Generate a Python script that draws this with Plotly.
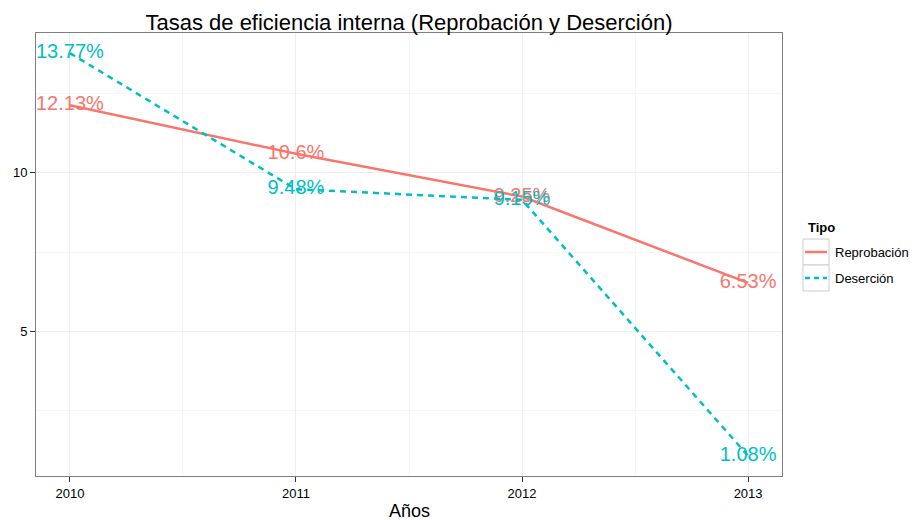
import plotly.graph_objects as go

years = [2010, 2011, 2012, 2013]
reprobacion = [12.13, 10.6, 9.25, 6.53]
desercion = [13.77, 9.48, 9.15, 1.08]
rep_labels = ["12.13%", "10.6%", "9.25%", "6.53%"]
des_labels = ["13.77%", "9.48%", "9.15%", "1.08%"]

RED = "#F8766D"
CYAN = "#00BFC4"
FONT = "Liberation Sans, Arial, sans-serif"

fig = go.Figure()
fig.add_trace(go.Scatter(x=years, y=reprobacion, mode="lines+text", text=rep_labels,
                         textposition="middle center", cliponaxis=False,
                         line=dict(color=RED, width=2.5),
                         textfont=dict(color=RED, size=20, family=FONT),
                         name="Reprobación", showlegend=False))
fig.add_trace(go.Scatter(x=years, y=desercion, mode="lines+text", text=des_labels,
                         textposition="middle center", cliponaxis=False,
                         line=dict(color=CYAN, width=2.5, dash="6px,5px"),
                         textfont=dict(color=CYAN, size=20, family=FONT),
                         name="Deserción", showlegend=False))

W, H = 917, 520
L, R, T, B = 36, 782, 33, 476

def px(p):
    return (p - L) / (R - L)

def py(p):
    return (B - p) / (B - T)

shapes = []
annotations = []
# custom legend
annotations.append(dict(text="<b>Tipo</b>", x=px(806), y=py(227), xref="paper", yref="paper",
                        xanchor="left", yanchor="middle", showarrow=False,
                        font=dict(size=13, family=FONT, color="black")))
entries = [("Reprobación", RED, "solid", 252), ("Deserción", CYAN, "dash", 278)]
for name, col, dash, yc in entries:
    shapes.append(dict(type="rect", xref="paper", yref="paper",
                       x0=px(803), x1=px(829), y0=py(yc - 13), y1=py(yc + 13),
                       line=dict(color="#cccccc", width=1), fillcolor="white"))
    shapes.append(dict(type="line", xref="paper", yref="paper",
                       x0=px(805), x1=px(827), y0=py(yc), y1=py(yc),
                       line=dict(color=col, width=2.5, dash=("5px,4px" if dash == "dash" else "solid"))))
    annotations.append(dict(text=name, x=px(833), y=py(yc), xref="paper", yref="paper",
                            xanchor="left", yanchor="middle", showarrow=False,
                            font=dict(size=13, family=FONT, color="black")))

# x axis title placed manually (ggplot-like position)
annotations.append(dict(text="Años", x=px(409), y=py(511), xref="paper", yref="paper",
                        xanchor="center", yanchor="middle", showarrow=False,
                        font=dict(size=18, family=FONT, color="black")))

fig.update_layout(
    width=W, height=H,
    margin=dict(l=L, r=W - R, t=T, b=H - B, autoexpand=False),
    paper_bgcolor="white", plot_bgcolor="white",
    font=dict(family=FONT, color="black"),
    title=dict(text="Tasas de eficiencia interna (Reprobación y Deserción)",
               x=px(409), xref="paper", xanchor="center", y=1 - 22 / H, yanchor="middle",
               font=dict(size=22, family=FONT, color="black")),
    showlegend=False,
    shapes=shapes, annotations=annotations,
)
fig.update_xaxes(range=[2009.85, 2013.15], tickvals=years, ticktext=[str(y) for y in years],
                 automargin=False,
                 showgrid=True, gridcolor="#eeeeee", gridwidth=1,
                 minor=dict(tickvals=[2010.5, 2011.5, 2012.5], showgrid=True, gridcolor="#f6f6f6", gridwidth=1),
                 ticks="outside", ticklen=5, tickcolor="#333333", tickwidth=1,
                 tickfont=dict(size=13, family=FONT, color="black"),
                 showline=True, linecolor="#7f7f7f", linewidth=1, mirror=True, zeroline=False)
fig.update_yaxes(range=[0.4455, 14.4045], tickvals=[5, 10], ticktext=["5", "10"],
                 automargin=False,
                 showgrid=True, gridcolor="#eeeeee", gridwidth=1,
                 minor=dict(tickvals=[2.5, 7.5, 12.5], showgrid=True, gridcolor="#f6f6f6", gridwidth=1),
                 ticks="outside", ticklen=5, tickcolor="#333333", tickwidth=1,
                 tickfont=dict(size=13, family=FONT, color="black"),
                 showline=True, linecolor="#7f7f7f", linewidth=1, mirror=True, zeroline=False)

fig.write_html("out.html", config={"displayModeBar": False})

# remove default browser body margin so the figure sits at the window's top-left
with open("out.html", "r", encoding="utf-8") as f:
    html = f.read()
html = html.replace("<body>", '<body style="margin:0;padding:0;">', 1)
with open("out.html", "w", encoding="utf-8") as f:
    f.write(html)
